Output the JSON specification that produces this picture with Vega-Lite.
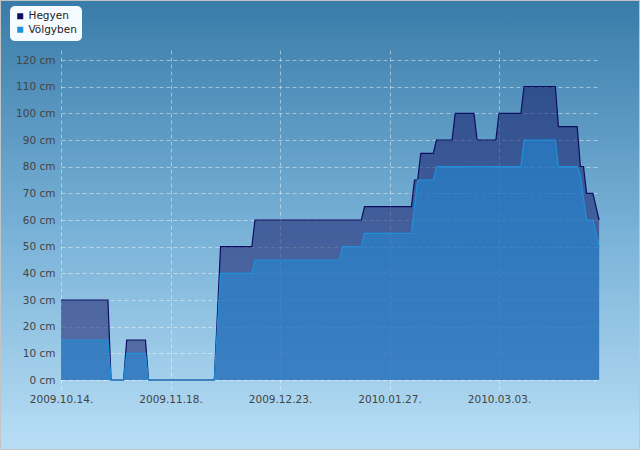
{
  "$schema": "https://vega.github.io/schema/vega-lite/v6.json",
  "width": 640,
  "height": 450,
  "autosize": "none",
  "padding": 0,
  "background": "#7fb6da",
  "config": {
    "view": {
      "fill": {"gradient": "linear", "x1": 0, "y1": 0, "x2": 0, "y2": 1,
        "stops": [{"offset": 0, "color": "#397ca9"}, {"offset": 0.5, "color": "#77b0d6"}, {"offset": 1, "color": "#b8def5"}]},
      "stroke": "#c4c4c4",
      "strokeWidth": 2
    },
    "font": "DejaVu Sans"
  },
  "datasets": {
    "snow": [
      {"date": "2009-10-14", "Hegyen": 30, "Volgyben": 15},
      {"date": "2009-10-29", "Hegyen": 30, "Volgyben": 15},
      {"date": "2009-10-30", "Hegyen": 0, "Volgyben": 0},
      {"date": "2009-11-03", "Hegyen": 0, "Volgyben": 0},
      {"date": "2009-11-04", "Hegyen": 15, "Volgyben": 10},
      {"date": "2009-11-10", "Hegyen": 15, "Volgyben": 10},
      {"date": "2009-11-11", "Hegyen": 0, "Volgyben": 0},
      {"date": "2009-12-02", "Hegyen": 0, "Volgyben": 0},
      {"date": "2009-12-03", "Hegyen": 25, "Volgyben": 20},
      {"date": "2009-12-04", "Hegyen": 50, "Volgyben": 40},
      {"date": "2009-12-14", "Hegyen": 50, "Volgyben": 40},
      {"date": "2009-12-15", "Hegyen": 60, "Volgyben": 45},
      {"date": "2010-01-11", "Hegyen": 60, "Volgyben": 45},
      {"date": "2010-01-12", "Hegyen": 60, "Volgyben": 50},
      {"date": "2010-01-18", "Hegyen": 60, "Volgyben": 50},
      {"date": "2010-01-19", "Hegyen": 65, "Volgyben": 55},
      {"date": "2010-02-03", "Hegyen": 65, "Volgyben": 55},
      {"date": "2010-02-04", "Hegyen": 75, "Volgyben": 65},
      {"date": "2010-02-05", "Hegyen": 75, "Volgyben": 75},
      {"date": "2010-02-06", "Hegyen": 85, "Volgyben": 75},
      {"date": "2010-02-10", "Hegyen": 85, "Volgyben": 75},
      {"date": "2010-02-11", "Hegyen": 90, "Volgyben": 80},
      {"date": "2010-02-16", "Hegyen": 90, "Volgyben": 80},
      {"date": "2010-02-17", "Hegyen": 100, "Volgyben": 80},
      {"date": "2010-02-23", "Hegyen": 100, "Volgyben": 80},
      {"date": "2010-02-24", "Hegyen": 90, "Volgyben": 80},
      {"date": "2010-03-02", "Hegyen": 90, "Volgyben": 80},
      {"date": "2010-03-03", "Hegyen": 100, "Volgyben": 80},
      {"date": "2010-03-10", "Hegyen": 100, "Volgyben": 80},
      {"date": "2010-03-11", "Hegyen": 110, "Volgyben": 90},
      {"date": "2010-03-21", "Hegyen": 110, "Volgyben": 90},
      {"date": "2010-03-22", "Hegyen": 95, "Volgyben": 80},
      {"date": "2010-03-28", "Hegyen": 95, "Volgyben": 80},
      {"date": "2010-03-29", "Hegyen": 80, "Volgyben": 77},
      {"date": "2010-03-30", "Hegyen": 80, "Volgyben": 68},
      {"date": "2010-03-31", "Hegyen": 70, "Volgyben": 60},
      {"date": "2010-04-02", "Hegyen": 70, "Volgyben": 60},
      {"date": "2010-04-03", "Hegyen": 65, "Volgyben": 55},
      {"date": "2010-04-04", "Hegyen": 60, "Volgyben": 50}
    ],
    "one": [{}]
  },
  "encoding": {
    "x": {
      "field": "date", "type": "temporal",
      "scale": {"type": "utc",
        "domain": [{"year": 2009, "month": 9, "date": 24, "hours": 12, "utc": true},
                   {"year": 2010, "month": 4, "date": 17, "hours": 1, "minutes": 40, "utc": true}]},
      "axis": {
        "orient": "bottom", "offset": -60, "title": null,
        "values": [{"year": 2009, "month": 10, "date": 14, "utc": true},
                   {"year": 2009, "month": 11, "date": 18, "utc": true},
                   {"year": 2009, "month": 12, "date": 23, "utc": true},
                   {"year": 2010, "month": 1, "date": 27, "utc": true},
                   {"year": 2010, "month": 3, "date": 3, "utc": true}],
        "format": "%Y.%m.%d.",
        "grid": false, "domain": false,
        "tickSize": -340, "tickDash": [4, 3], "tickColor": "#ffffff", "tickOpacity": 0.45, "tickWidth": 1,
        "labelPadding": 344, "labelFontSize": 10.5, "labelColor": "#444444", "labelFont": "DejaVu Sans",
        "labelFlush": false, "labelOverlap": false
      }
    },
    "y": {
      "type": "quantitative",
      "scale": {"domain": [-26.25, 142.5], "nice": false, "zero": false},
      "axis": {
        "orient": "left", "offset": -61, "title": null,
        "values": [0, 10, 20, 30, 40, 50, 60, 70, 80, 90, 100, 110, 120],
        "labelExpr": "datum.value + ' cm'",
        "grid": false, "domain": false,
        "tickSize": -539, "tickDash": [4, 3], "tickColor": "#ffffff", "tickOpacity": 0.45, "tickWidth": 1,
        "labelPadding": 545, "labelFontSize": 10.5, "labelColor": "#444444", "labelFont": "DejaVu Sans"
      }
    }
  },
  "layer": [
    {
      "data": {"name": "snow"},
      "mark": {"type": "area", "fillOpacity": 0.5, "line": {"strokeWidth": 1.2}},
      "encoding": {
        "y": {"field": "Hegyen", "type": "quantitative", "stack": null},
        "color": {"datum": "Hegyen", "type": "nominal",
          "scale": {"domain": ["Hegyen", "Völgyben"], "range": ["#0e0e60", "#1e90dc"]},
          "legend": {
            "orient": "none", "legendX": 10, "legendY": 6, "title": null,
            "fillColor": "#f6fbff", "cornerRadius": 5, "padding": 5,
            "symbolType": "square", "symbolSize": 36, "symbolOpacity": 1, "symbolStrokeWidth": 0,
            "labelFontSize": 10.5, "labelColor": "#222222", "labelFont": "DejaVu Sans",
            "labelOffset": 3, "rowPadding": 2.5
          }
        }
      }
    },
    {
      "data": {"name": "snow"},
      "mark": {"type": "area", "fillOpacity": 0.52, "line": {"strokeWidth": 1.2}},
      "encoding": {
        "y": {"field": "Volgyben", "type": "quantitative", "stack": null},
        "color": {"datum": "Völgyben", "type": "nominal"}
      }
    },
    {
      "data": {"name": "one"},
      "mark": {"type": "rule", "color": "#111111", "strokeWidth": 1},
      "encoding": {
        "x": {"datum": {"year": 2009, "month": 10, "date": 13, "hours": 12, "utc": true}, "type": "temporal"},
        "x2": {"datum": {"year": 2010, "month": 4, "date": 4, "hours": 8, "utc": true}},
        "y": {"datum": -3.75, "type": "quantitative"}
      }
    },
    {
      "data": {"name": "one"},
      "mark": {"type": "rule", "color": "#111111", "strokeWidth": 1},
      "encoding": {
        "x": {"datum": {"year": 2009, "month": 10, "date": 14, "utc": true}, "type": "temporal"},
        "y": {"datum": -5, "type": "quantitative"},
        "y2": {"datum": 123.75}
      }
    }
  ]
}
